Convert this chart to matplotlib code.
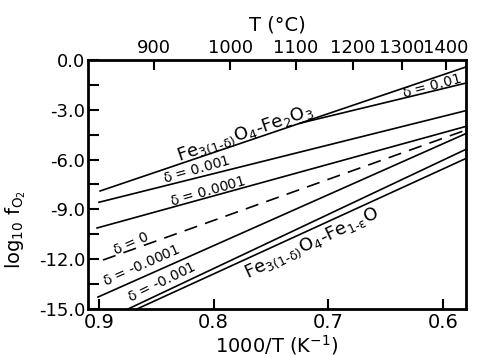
import matplotlib
matplotlib.use("Agg")
import matplotlib.pyplot as plt
from matplotlib.ticker import FixedLocator, FormatStrFormatter, NullFormatter

plt.rcParams['axes.unicode_minus'] = False
plt.rcParams['font.family'] = ['DejaVu Sans']
plt.rcParams['mathtext.default'] = 'regular'

# Line endpoints: (1000/T start, log fO2 start, 1000/T end, log fO2 end)
names = ["hem_boundary", "d=0.01", "d=0.001", "d=0.0001", "d=0",
         "d=-0.0001", "d=-0.001", "wus_boundary"]
x_start = [0.899, 0.7248, 0.900, 0.9017, 0.8965, 0.9009, 0.8747, 0.8669]
y_start = [-7.89, -3.81, -8.57, -10.12, -12.05, -14.28, -15.0, -15.0]
x_end = [0.58, 0.58, 0.58, 0.58, 0.58, 0.58, 0.58, 0.58]
y_end = [-0.42, -1.39, -3.05, -4.00, -4.22, -4.43, -5.38, -5.93]
styles = ['-', '-', '-', '-', '--', '-', '-', '-']

# Annotation texts with positions (data coords) and rotation
label_text = [r"Fe$_{3(1\text{-}\delta)}$O$_4$-Fe$_2$O$_3$",
              r"$\delta$ = 0.01", r"$\delta$ = 0.001", r"$\delta$ = 0.0001",
              r"$\delta$ = 0", r"$\delta$ = -0.0001", r"$\delta$ = -0.001",
              r"Fe$_{3(1\text{-}\delta)}$O$_4$-Fe$_{1\text{-}\epsilon}$O"]
label_x = [0.7727, 0.6097, 0.8146, 0.805, 0.8721, 0.8625, 0.845, 0.7143]
label_y = [-4.45, -1.60, -6.63, -7.89, -11.08, -12.41, -13.37, -11.10]
label_rot = [19, 15, 16, 16, 24, 24, 26, 25]
label_size = [13, 10, 10, 10, 10, 10, 10, 13]

xticks = [0.9, 0.8, 0.7, 0.6]
yticks = [0.0, -3.0, -6.0, -9.0, -12.0, -15.0]
yminor = [-1.5, -4.5, -7.5, -10.5, -13.5]
top_ticks = [900, 1000, 1100, 1200, 1300, 1400]

fig = plt.figure(figsize=(4.84, 3.56), dpi=100)
ax = fig.add_axes([0.1818, 0.132, 0.781, 0.6995])

for xs, ys, xe, ye, ls in zip(x_start, y_start, x_end, y_end, styles):
    if ls == '--':
        ax.plot([xs, xe], [ys, ye], color='black', lw=1.2, ls=(0, (8, 5)))
    else:
        ax.plot([xs, xe], [ys, ye], color='black', lw=1.2)

for t, x, y, r, s in zip(label_text, label_x, label_y, label_rot, label_size):
    ax.text(x, y, t, rotation=r, fontsize=s, ha='center', va='center',
            rotation_mode='anchor')

ax.set_xlim(0.9096, 0.58)
ax.set_ylim(-15.0, 0.0)
ax.xaxis.set_major_locator(FixedLocator(xticks))
ax.xaxis.set_major_formatter(FormatStrFormatter('%.1f'))
ax.yaxis.set_major_locator(FixedLocator(yticks))
ax.yaxis.set_minor_locator(FixedLocator(yminor))
ax.yaxis.set_major_formatter(FormatStrFormatter('%.1f'))
ax.yaxis.set_minor_formatter(NullFormatter())

ax.tick_params(axis='both', which='both', direction='in', width=1.5)
ax.tick_params(axis='x', which='major', length=7, labelsize=14, pad=3)
ax.tick_params(axis='y', which='major', length=8, labelsize=13, pad=2)
ax.tick_params(axis='y', which='minor', length=8)

for sp in ax.spines.values():
    sp.set_linewidth(2)

sec = ax.secondary_xaxis('top', functions=(lambda x: 1000.0 / x - 273.15,
                                           lambda t: 1000.0 / (t + 273.15)))
sec.xaxis.set_major_locator(FixedLocator(top_ticks))
sec.xaxis.set_major_formatter(FormatStrFormatter('%d'))
sec.tick_params(axis='x', which='major', direction='in', length=7, width=1.5,
                labelsize=13, pad=2)
sec.tick_params(axis='x', which='minor', length=0)
sec.set_xlabel("T (°C)", fontsize=14, labelpad=6)

ax.set_xlabel(r"1000/T (K$^{-1}$)", fontsize=14, labelpad=1)
ax.set_ylabel(r"log$_{10}$ f$_{O_2}$", fontsize=14)
ax.yaxis.set_label_coords(-0.16, 0.32)

fig.savefig("out.png", dpi=100)
